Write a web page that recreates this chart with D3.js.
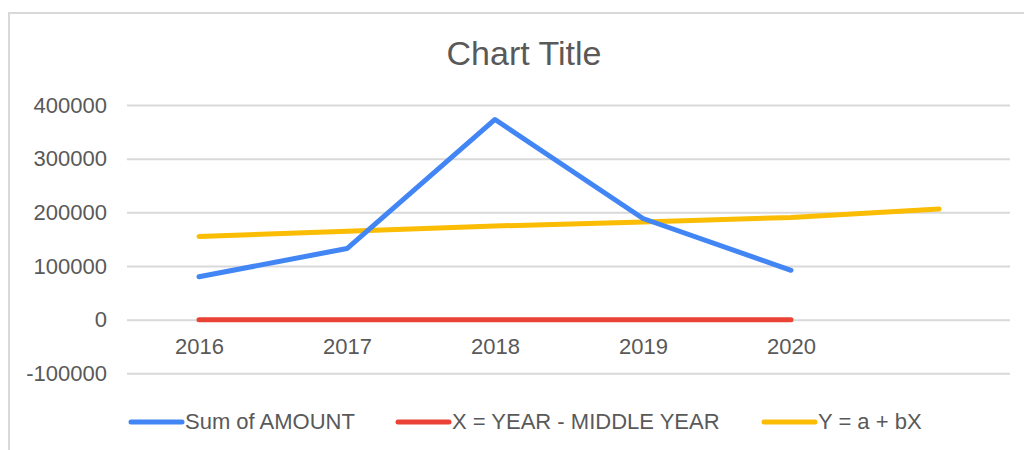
<!DOCTYPE html>
<html>
<head>
<meta charset="utf-8">
<script src="https://cdn.jsdelivr.net/npm/d3@7"></script>
<style>
  body { margin: 0; background: #fff; }
  text { font-family: "Liberation Sans", Arial, sans-serif; fill: #595959; }
</style>
</head>
<body>
<svg id="chart"></svg>
<script>
// data
const categories = ["2016", "2017", "2018", "2019", "2020", ""];
const seriesNames = ["Sum of AMOUNT", "X = YEAR - MIDDLE YEAR", "Y = a + bX"];
const sumAmount = [80000, 132500, 373000, 188500, 92000];
const xMiddle = [-2, -1, 0, 1, 2];
const trend = [155000, 164500, 174500, 182000, 190500, 206000];
const yTicks = [-100000, 0, 100000, 200000, 300000, 400000];
const colors = ["#4285F4", "#EA4335", "#FBBC04"];

const width = 1024, height = 450;
const svg = d3.select('#chart')
    .attr('width', width)
    .attr('height', height);

// outer border (top and left only visible)
svg.append('path')
    .attr('d', `M9,${height} L9,13 L${width},13`)
    .attr('fill', 'none')
    .attr('stroke', '#d9d9d9')
    .attr('stroke-width', 2);

svg.append('text')
    .attr('x', 524)
    .attr('y', 65)
    .attr('text-anchor', 'middle')
    .style('font-size', '34px')
    .text('Chart Title');

const xscale = d3.scalePoint()
    .domain(categories.map((d, i) => i))
    .range([125, 1013])
    .padding(0.5);

const yscale = d3.scaleLinear()
    .domain([-100000, 400000])
    .range([373.3, 105]);

// y axis + gridlines
const yaxis = d3.axisLeft(yscale)
    .tickValues(yTicks)
    .tickSize(-(1010 - 127))
    .tickPadding(20)
    .tickFormat(d => String(d));  // plain hyphen for negatives
const yg = svg.append('g')
    .attr('transform', 'translate(127,0)')
    .call(yaxis);
yg.select('.domain').remove();
yg.selectAll('line').attr('stroke', '#d9d9d9').attr('stroke-width', 2);
yg.selectAll('text').style('font-size', '22px').attr('fill', '#595959')
    .style('font-family', '"Liberation Sans", Arial, sans-serif');

// x axis sits on the zero line
const xaxis = d3.axisBottom(xscale)
    .tickSize(0)
    .tickPadding(19)
    .tickFormat(i => categories[i]);
const xg = svg.append('g')
    .attr('transform', `translate(0,${yscale(0)})`)
    .call(xaxis);
xg.select('.domain').remove();
xg.selectAll('text').style('font-size', '22px').attr('fill', '#595959')
    .style('font-family', '"Liberation Sans", Arial, sans-serif');

const line = d3.line()
    .x((d, i) => xscale(i))
    .y(d => yscale(d));

[xMiddle, trend, sumAmount].forEach((values, k) => {
    const ci = [1, 2, 0][k];
    svg.append('path')
        .datum(values)
        .attr('d', line)
        .attr('fill', 'none')
        .attr('stroke', colors[ci])
        .attr('stroke-width', 5)
        .attr('stroke-linecap', 'round')
        .attr('stroke-linejoin', 'round');
});

// legend
const legendX = [131, 398, 764];
seriesNames.forEach((name, i) => {
    const g = svg.append('g').attr('transform', `translate(${legendX[i]},422)`);
    g.append('line')
        .attr('x1', 0).attr('x2', 51)
        .attr('y1', 0).attr('y2', 0)
        .attr('stroke', colors[i])
        .attr('stroke-width', 5)
        .attr('stroke-linecap', 'round');
    g.append('text')
        .attr('x', 54)
        .attr('y', 7)
        .style('font-size', '22px')
        .text(name);
});
</script>
</body>
</html>
